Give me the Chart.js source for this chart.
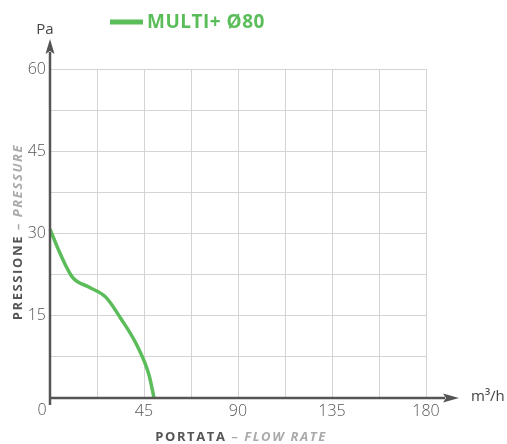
<!DOCTYPE html>
<html><head><meta charset="utf-8">
<script src="https://cdn.jsdelivr.net/npm/chart.js@4"></script>
<style>html,body{margin:0;padding:0;background:#fff}#w{width:507px;height:444px}</style>
</head><body><div id="w"><canvas id="c"></canvas></div>
<script>
const seriesName = 'MULTI+ Ø80';
const flowRate = [0, 5, 10.8, 18.8, 26.7, 33.9, 41.9, 47.4, 49.8];
const pressure = [30.8, 26.2, 22.0, 20.2, 18.4, 14.5, 9.4, 4.2, 0];
const xTicks = [0, 45, 90, 135, 180];
const yTicks = [0, 15, 30, 45, 60];
const xUnit = 'm³/h', yUnit = 'Pa';
const xTitleA = 'PORTATA', xTitleB = ' – FLOW RATE';
const yTitleA = 'PRESSIONE', yTitleB = ' – PRESSURE';

const GREEN = '#5bbd5a', AX = '#555555', FONT = '"Open Sans", sans-serif';

const deco = {
  id: 'deco',
  afterDraw(ch) {
    const c = ch.ctx;
    const x0 = ch.scales.x.getPixelForValue(0), y0 = ch.scales.y.getPixelForValue(0);
    c.save();
    c.strokeStyle = AX; c.fillStyle = AX; c.lineWidth = 2.5;
    c.beginPath(); c.moveTo(x0, y0 + 7); c.lineTo(x0, 52); c.stroke();
    c.beginPath(); c.moveTo(x0 - 1, y0); c.lineTo(445, y0); c.stroke();
    c.beginPath(); c.moveTo(x0, 39); c.lineTo(x0 - 4.5, 54); c.lineTo(x0, 51); c.lineTo(x0 + 4.5, 54); c.closePath(); c.fill();
    c.beginPath(); c.moveTo(459, y0); c.lineTo(443, y0 - 4.5); c.lineTo(446, y0); c.lineTo(443, y0 + 4.5); c.closePath(); c.fill();
    c.textBaseline = 'middle';
    c.font = '300 16px ' + FONT; c.fillStyle = AX; c.textAlign = 'center';
    c.fillText(String(xTicks[0]), 42, 410);
    c.font = '15px ' + FONT; c.fillStyle = '#444';
    c.textAlign = 'center'; c.fillText(yUnit, 45, 30);
    c.textAlign = 'left'; c.fillText(xUnit, 471, 397);
    // legend
    c.strokeStyle = GREEN; c.lineWidth = 5;
    c.beginPath(); c.moveTo(110, 22); c.lineTo(143, 22); c.stroke();
    c.fillStyle = GREEN; c.font = 'bold 19px ' + FONT; c.textAlign = 'left';
    c.letterSpacing = '0.5px';
    c.fillText(seriesName, 147, 23);
    // x title
    c.letterSpacing = '1.6px';
    c.font = 'bold 13px ' + FONT;
    const wa = c.measureText(xTitleA).width;
    c.font = 'italic bold 13px ' + FONT;
    const wb = c.measureText(xTitleB).width;
    let sx = 241 - (wa + wb) / 2;
    c.font = 'bold 13px ' + FONT; c.fillStyle = '#555'; c.fillText(xTitleA, sx, 437);
    c.font = 'italic bold 13px ' + FONT; c.fillStyle = '#aaa'; c.fillText(xTitleB, sx + wa, 437);
    // y title
    c.translate(18, 232); c.rotate(-Math.PI / 2);
    c.font = 'bold 13px ' + FONT;
    const ya = c.measureText(yTitleA).width;
    c.font = 'italic bold 13px ' + FONT;
    const yb = c.measureText(yTitleB).width;
    let sy = -(ya + yb) / 2;
    c.font = 'bold 13px ' + FONT; c.fillStyle = '#555'; c.fillText(yTitleA, sy, 0);
    c.font = 'italic bold 13px ' + FONT; c.fillStyle = '#aaa'; c.fillText(yTitleB, sy + ya, 0);
    c.restore();
  }
};

new Chart(document.getElementById('c'), {
  type: 'scatter',
  data: { datasets: [{
    label: seriesName,
    data: flowRate.map((v, i) => ({ x: v, y: pressure[i] })),
    showLine: true, borderColor: GREEN, borderWidth: 3.5, pointRadius: 0,
    cubicInterpolationMode: 'monotone', clip: false
  }]},
  options: {
    responsive: true, maintainAspectRatio: false, animation: false,
    layout: { padding: { top: 69, right: 81, left: 0, bottom: 0 } },
    plugins: { legend: { display: false }, tooltip: { enabled: false } },
    scales: {
      x: {
        type: 'linear', min: xTicks[0], max: xTicks[xTicks.length - 1],
        afterFit(s) { s.height = 46; },
        afterBuildTicks(s) { const t = []; for (let v = 0; v <= 180; v += 22.5) t.push({ value: v }); s.ticks = t; },
        ticks: { color: AX, font: { family: FONT, size: 16, weight: 300 }, padding: 4, maxRotation: 0, autoSkip: false,
          callback: v => (v !== 0 && xTicks.includes(v)) ? String(v) : '' },
        grid: { color: '#d4d4d4', lineWidth: 1, drawTicks: false },
        border: { display: false }
      },
      y: {
        type: 'linear', min: yTicks[0], max: yTicks[yTicks.length - 1],
        afterFit(s) { s.width = 50; },
        afterBuildTicks(s) { const t = []; for (let v = 0; v <= 60; v += 7.5) t.push({ value: v }); s.ticks = t; },
        ticks: { color: AX, font: { family: FONT, size: 16, weight: 300 }, padding: 4, autoSkip: false,
          callback: v => (v !== 0 && yTicks.includes(v)) ? String(v) : '' },
        grid: { color: '#d4d4d4', lineWidth: 1, drawTicks: false },
        border: { display: false }
      }
    }
  },
  plugins: [deco]
});
</script></body></html>
